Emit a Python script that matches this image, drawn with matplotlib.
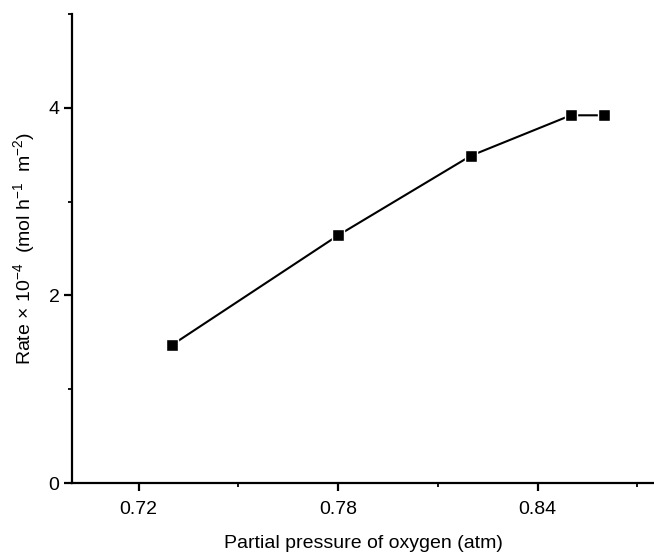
import matplotlib
matplotlib.use("Agg")
import matplotlib.pyplot as plt
from matplotlib.ticker import FixedLocator

plt.rcParams['font.family'] = ['Liberation Sans', 'DejaVu Sans']
plt.rcParams['mathtext.fontset'] = 'custom'
plt.rcParams['mathtext.rm'] = 'Liberation Sans'
plt.rcParams['mathtext.it'] = 'Liberation Sans:italic'
plt.rcParams['mathtext.bf'] = 'Liberation Sans:bold'

# Data
pressure = [0.73, 0.78, 0.82, 0.85, 0.86]
rate = [1.47, 2.64, 3.49, 3.92, 3.92]
x_ticks = [0.72, 0.78, 0.84]
x_tick_labels = ["0.72", "0.78", "0.84"]
y_ticks = [0, 2, 4]
y_tick_labels = ["0", "2", "4"]

fig = plt.figure(figsize=(6.54, 5.52), dpi=100)
ax = fig.add_axes([72/654, (552-483)/552, (654-72)/654, (483-14)/552])

ax.plot(pressure, rate, color='black', lw=1.5, marker='s', ms=8.5,
        mfc='black', mec='white', mew=1.0, clip_on=False, zorder=3)

ax.set_xlim(0.70, 0.875)
ax.set_ylim(0, 5)

ax.set_xticks(x_ticks)
ax.set_xticklabels(x_tick_labels)
ax.set_yticks(y_ticks)
ax.set_yticklabels(y_tick_labels)
ax.xaxis.set_minor_locator(FixedLocator([0.75, 0.81, 0.87]))
ax.yaxis.set_minor_locator(FixedLocator([1, 3, 5]))

for s in ['top', 'right']:
    ax.spines[s].set_visible(False)
for s in ['left', 'bottom']:
    ax.spines[s].set_linewidth(1.6)

ax.tick_params(which='major', length=6, width=1.6, labelsize=14, pad=7, direction='out')
ax.tick_params(axis='y', which='major', pad=3)
ax.tick_params(which='minor', length=3, width=1.3, direction='out')

ax.set_xlabel('Partial pressure of oxygen (atm)', fontsize=14, labelpad=12)
ax.set_ylabel('Rate × 10$^{-4}$  (mol h$^{-1}$  m$^{-2}$)', fontsize=14, labelpad=8)

fig.savefig('out.png', dpi=100)
